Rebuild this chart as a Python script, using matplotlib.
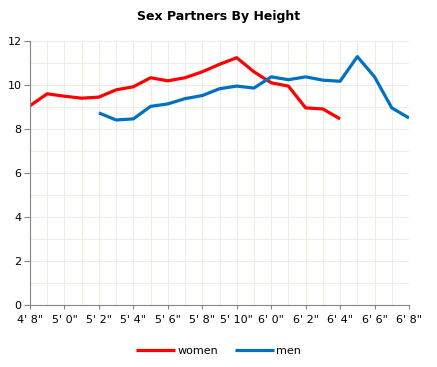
import matplotlib
matplotlib.use("Agg")
import matplotlib.pyplot as plt
import numpy as np

# categories along the x axis (labels shown every other one)
heights = ["4' 8\"", "4' 10\"", "5' 0\"", "5' 1\"", "5' 2\"", "5' 3\"", "5' 4\"",
           "5' 5\"", "5' 6\"", "5' 7\"", "5' 8\"", "5' 9\"", "5' 10\"", "5' 11\"",
           "6' 0\"", "6' 1\"", "6' 2\"", "6' 3\"", "6' 4\"", "6' 5\"", "6' 6\"",
           "6' 7\"", "6' 8\""]

# women: 4'8" .. 6'4"
women = [9.06, 9.60, 9.49, 9.40, 9.45, 9.78, 9.92, 10.33, 10.19, 10.33,
         10.60, 10.94, 11.24, 10.60, 10.10, 9.95, 8.96, 8.91, 8.46]
# men: 5'2" .. 6'8"
men = [8.73, 8.41, 8.46, 9.03, 9.14, 9.38, 9.52, 9.83, 9.95, 9.86,
       10.37, 10.24, 10.37, 10.22, 10.17, 11.29, 10.37, 8.96, 8.50]

men_start = heights.index("5' 2\"")

fig = plt.figure(figsize=(4.37, 3.67), dpi=100)
ax = fig.add_axes([30/437, 1-305/367, 379/437, 264/367])

x_w = np.arange(len(women))
x_m = np.arange(men_start, men_start + len(men))
ax.plot(x_w, women, color="#FF0000", lw=2.3, label="women", solid_capstyle="butt")
ax.plot(x_m, men, color="#0070C0", lw=2.3, label="men", solid_capstyle="butt")

ax.set_xlim(0, len(heights) - 1)
ax.set_ylim(0, 12)

ax.set_xticks(np.arange(0, len(heights), 2))
ax.set_xticklabels(heights[::2])
ax.set_xticks(np.arange(len(heights)), minor=True)
ax.set_yticks(np.arange(0, 13, 2))
ax.set_yticks(np.arange(0, 13, 1), minor=True)

ax.grid(True, which="both", color="#EDEDE4", lw=0.8)
ax.set_axisbelow(True)

for s in ["top", "right"]:
    ax.spines[s].set_visible(False)
for s in ["left", "bottom"]:
    ax.spines[s].set_color("#868686")
ax.tick_params(which="major", colors="#868686", labelcolor="black", labelsize=8,
               direction="out")
ax.tick_params(axis="y", which="major", length=4, pad=2)
ax.tick_params(axis="x", which="major", length=3, pad=4)
ax.tick_params(which="minor", length=0)

fig.suptitle("Sex Partners By Height", fontsize=9, fontweight="bold", y=0.972)

leg = fig.legend(loc="center", bbox_to_anchor=(0.5, 1-351/367), ncol=2,
                 frameon=False, fontsize=8, handlelength=3.5, handletextpad=0.2,
                 columnspacing=1.5)

fig.savefig("out.png", dpi=100)
